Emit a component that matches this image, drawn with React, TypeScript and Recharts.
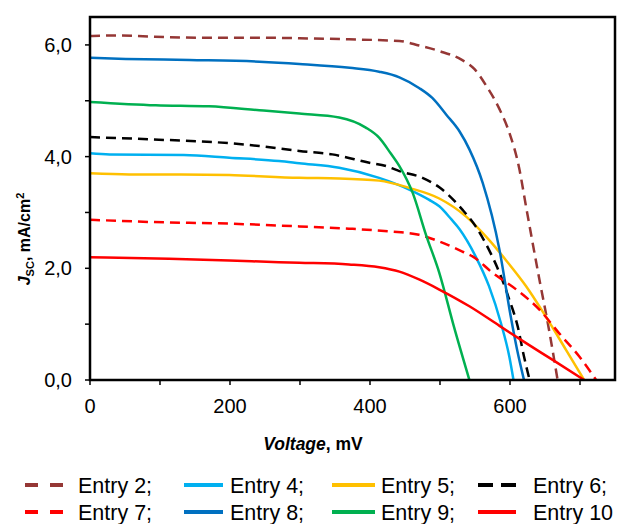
import { LineChart, Line, XAxis, YAxis } from "recharts";

// voltage (mV) and current density (mA/cm2)
const entry2V = [0, 40, 85, 156, 230, 299, 370, 442, 470, 499, 530, 549, 566, 585, 599, 613, 623, 642, 655, 668];
const entry2J = [6.16, 6.17, 6.15, 6.13, 6.13, 6.12, 6.1, 6.07, 5.99, 5.89, 5.74, 5.57, 5.27, 4.85, 4.43, 3.8, 3.1, 1.8, 0.95, 0];

const entry4V = [0, 28, 134, 199, 270, 299, 356, 413, 456, 484, 499, 516, 528, 551, 570, 587, 599, 605];
const entry4J = [4.06, 4.04, 4.03, 3.98, 3.92, 3.88, 3.8, 3.62, 3.41, 3.23, 3.11, 2.88, 2.7, 2.21, 1.68, 1.02, 0.42, 0];

const entry5V = [0, 56, 130, 199, 299, 356, 413, 456, 499, 537, 570, 594, 623, 651, 680, 706];
const entry5J = [3.7, 3.68, 3.68, 3.67, 3.62, 3.61, 3.57, 3.44, 3.25, 2.93, 2.51, 2.15, 1.68, 1.14, 0.54, 0];

const entry6V = [0, 85, 199, 242, 299, 346, 399, 423, 442, 475, 499, 532, 551, 570, 585, 599, 611, 620, 628];
const entry6J = [4.35, 4.31, 4.24, 4.19, 4.1, 4.04, 3.89, 3.83, 3.74, 3.62, 3.45, 3.05, 2.75, 2.33, 1.92, 1.44, 0.96, 0.42, 0];

const entry7V = [0, 85, 199, 299, 370, 428, 470, 499, 532, 547, 575, 609, 642, 670, 699, 723];
const entry7J = [2.87, 2.83, 2.8, 2.75, 2.71, 2.66, 2.6, 2.48, 2.3, 2.21, 1.92, 1.62, 1.26, 0.84, 0.42, 0];

const entry8V = [0, 51, 142, 242, 299, 371, 413, 442, 470, 489, 509, 528, 542, 561, 585, 601, 610, 620];
const entry8J = [5.77, 5.75, 5.73, 5.7, 5.66, 5.59, 5.52, 5.42, 5.23, 5.05, 4.75, 4.45, 4.13, 3.53, 2.33, 1.14, 0.55, 0];

const entry9V = [0, 94, 170, 242, 299, 356, 394, 413, 430, 442, 461, 480, 499, 520, 542];
const entry9J = [4.98, 4.92, 4.9, 4.83, 4.77, 4.7, 4.52, 4.34, 4.05, 3.83, 3.35, 2.6, 1.92, 0.95, 0];

const entry10V = [0, 113, 199, 270, 299, 370, 413, 442, 470, 499, 542, 585, 623, 661, 706];
const entry10J = [2.2, 2.17, 2.14, 2.11, 2.1, 2.07, 2.02, 1.94, 1.8, 1.62, 1.32, 0.97, 0.66, 0.36, 0];

const xTicks = [0, 100, 200, 300, 400, 500, 600, 700];
const yTicks = [0, 1, 2, 3, 4, 5, 6];

const zip = (v: number[], j: number[]) => v.map((x, i) => ({ v: x, j: j[i] }));

const series = [
  { name: "Entry 2;", color: "#953735", dash: "10 6", legendDash: "13 12", data: zip(entry2V, entry2J) },
  { name: "Entry 4;", color: "#00B0F0", dash: undefined, legendDash: undefined, data: zip(entry4V, entry4J) },
  { name: "Entry 5;", color: "#FFC000", dash: undefined, legendDash: undefined, data: zip(entry5V, entry5J) },
  { name: "Entry 6;", color: "#000000", dash: "10 6", legendDash: "15 8", data: zip(entry6V, entry6J) },
  { name: "Entry 7;", color: "#FF0000", dash: "10 6", legendDash: "13 12", data: zip(entry7V, entry7J) },
  { name: "Entry 8;", color: "#0070C0", dash: undefined, legendDash: undefined, data: zip(entry8V, entry8J) },
  { name: "Entry 9;", color: "#00B050", dash: undefined, legendDash: undefined, data: zip(entry9V, entry9J) },
  { name: "Entry 10", color: "#FF0000", dash: undefined, legendDash: undefined, data: zip(entry10V, entry10J) },
];

const FONT = "'Liberation Sans', Arial, sans-serif";

// plot box (matches chart margins and axis sizes below)
const PLOT = { left: 90, top: 17, right: 615, bottom: 380 };

const iconLeft = [25, 184, 332, 478];
const iconRight = [63, 223, 375, 516];
const textLeft = [78, 230, 381, 533];
const rowY = [485, 512];

function YLabel() {
  return (
    <text
      x={30}
      y={239}
      transform="rotate(-90 30 239)"
      textAnchor="middle"
      fontFamily={FONT}
      fontWeight="bold"
      fontSize={16}
      fill="#000"
    >
      <tspan fontStyle="italic">J</tspan>
      <tspan fontSize={11} dy={4}>SC</tspan>
      <tspan dy={-4}>, mA/cm</tspan>
      <tspan fontSize={11} dy={-6}>2</tspan>
    </text>
  );
}

function XLabel() {
  return (
    <text x={313} y={450} textAnchor="middle" fontFamily={FONT} fontWeight="bold" fontSize={17.5} fill="#000">
      <tspan fontStyle="italic">Voltage</tspan>
      <tspan>, mV</tspan>
    </text>
  );
}

function Overlay() {
  return (
    <svg width={618} height={524} style={{ position: "absolute", left: 0, top: 0, pointerEvents: "none" }}>
      <rect
        x={PLOT.left}
        y={PLOT.top}
        width={PLOT.right - PLOT.left}
        height={PLOT.bottom - PLOT.top}
        fill="none"
        stroke="#000000"
        strokeWidth={2.5}
      />
      {series.map((s, i) => {
        const col = i % 4;
        const row = Math.floor(i / 4);
        const y = rowY[row];
        return (
          <g key={s.name}>
            <line
              x1={iconLeft[col]}
              x2={iconRight[col]}
              y1={y}
              y2={y}
              stroke={s.color}
              strokeWidth={4}
              strokeDasharray={s.legendDash}
            />
            <text x={textLeft[col]} y={y + 7.5} fontFamily={FONT} fontSize={21.5} fill="#000">
              {s.name}
            </text>
          </g>
        );
      })}
    </svg>
  );
}

export default function App() {
  return (
    <div style={{ position: "relative", width: 618, height: 524, background: "#fff" }}>
      <style>{"body{margin:0}"}</style>
      <LineChart
        width={618}
        height={460}
        margin={{ top: PLOT.top, right: 618 - PLOT.right, left: 0, bottom: 20 }}
      >
        <XAxis
          dataKey="v"
          type="number"
          domain={[0, 750]}
          ticks={xTicks}
          tickFormatter={(v: number) => (v % 200 === 0 ? String(v) : "")}
          height={60}
          axisLine={{ stroke: "#000", strokeWidth: 2 }}
          tickLine={{ stroke: "#000", strokeWidth: 1.5 }}
          tickSize={5}
          tickMargin={14}
          tick={{ fill: "#000", fontSize: 20, fontFamily: FONT }}
          label={<XLabel />}
          allowDataOverflow
        />
        <YAxis
          type="number"
          domain={[0, 6.5]}
          ticks={yTicks}
          tickFormatter={(v: number) => (v % 2 === 0 ? v.toFixed(1).replace(".", ",") : "")}
          width={PLOT.left}
          axisLine={{ stroke: "#000", strokeWidth: 2 }}
          tickLine={{ stroke: "#000", strokeWidth: 1.5 }}
          tickSize={5}
          tickMargin={13}
          tick={{ fill: "#000", fontSize: 20, fontFamily: FONT }}
          label={<YLabel />}
          allowDataOverflow
        />
        {series.map((s) => (
          <Line
            key={s.name}
            data={s.data}
            dataKey="j"
            type="monotone"
            stroke={s.color}
            strokeWidth={2.5}
            strokeDasharray={s.dash}
            dot={false}
            activeDot={false}
            isAnimationActive={false}
          />
        ))}
      </LineChart>
      <Overlay />
    </div>
  );
}
